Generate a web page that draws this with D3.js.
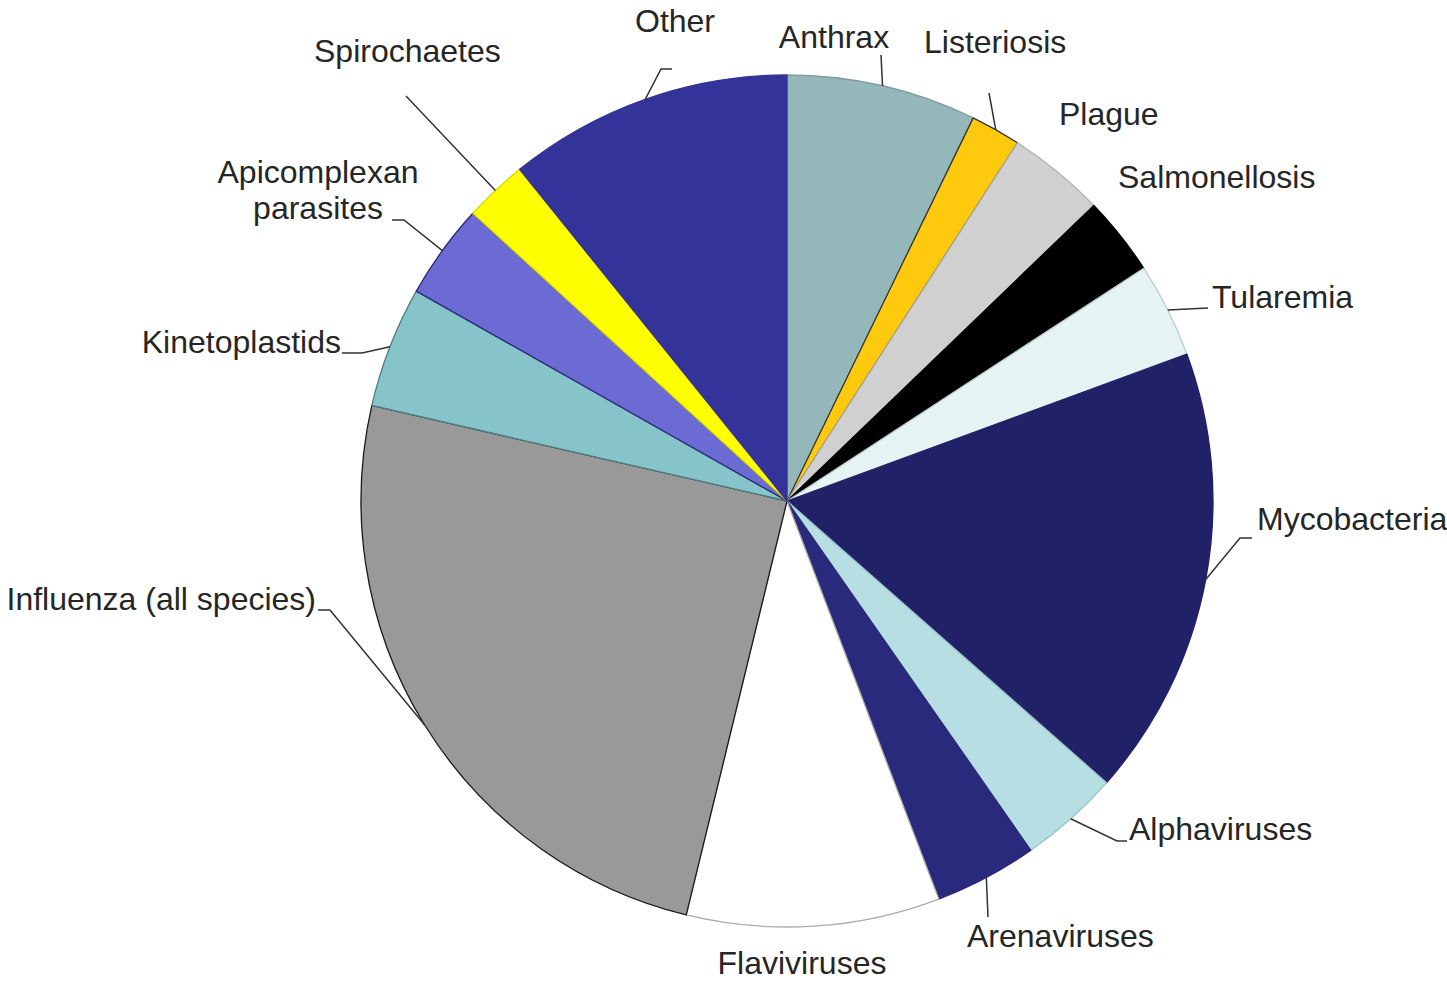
<!DOCTYPE html>
<html>
<head>
<meta charset="utf-8">
<script src="https://cdn.jsdelivr.net/npm/d3@7/dist/d3.min.js"></script>
<style>
  html, body { margin: 0; padding: 0; background: #ffffff; }
  svg { display: block; }
  text { font-family: "Liberation Sans", Arial, sans-serif; font-size: 32px; fill: #262626; }
</style>
</head>
<body>
<svg id="chart" width="1447" height="981"></svg>
<script>
// ---- data (percent of total, clockwise from 12 o'clock) ----
const categories = ["Anthrax", "Listeriosis", "Plague", "Salmonellosis", "Tularemia",
  "Mycobacteria", "Alphaviruses", "Arenaviruses", "Flaviviruses", "Influenza (all species)",
  "Kinetoplastids", "Apicomplexan parasites", "Spirochaetes", "Other"];
const values = [7.2, 1.9, 3.7, 3.0, 3.6, 17.1, 3.8, 3.9, 9.6, 24.8, 4.6, 3.6, 2.4, 10.8];

// ---- styling ----
const fills = ["#94b7ba", "#ffc90e", "#d0d0d0", "#000000", "#e6f3f3", "#212168",
  "#b7dfe3", "#2a2a7c", "#ffffff", "#999999", "#86c4ca", "#6b6bd3", "#ffff00", "#333399"];
const strokes = ["#7f9ea1", "#333333", "#b0b0b0", "#000000", "#b8c8c8", "#212168",
  "#9cc4c8", "#2a2a7c", "#aaaaaa", "#1a1a1a", "#4f7f84", "#2a2a7c", "#d8d800", "#333399"];

// label layout: text anchor/baseline and leader bends (leader starts on the slice's outer mid-arc)
const labelLayout = {
  "Anthrax":        { x: 834, y: 48, anchor: "middle", pts: [[881, 55]] },
  "Listeriosis":    { x: 924, y: 53, anchor: "start", pts: [[989, 93]] },
  "Plague":         { x: 1059, y: 125, anchor: "start", pts: [] },
  "Salmonellosis":  { x: 1118, y: 188, anchor: "start", pts: [] },
  "Tularemia":      { x: 1212, y: 308, anchor: "start", pts: [[1208, 308]] },
  "Mycobacteria":   { x: 1257, y: 530, anchor: "start", pts: [[1240, 538], [1252, 538]] },
  "Alphaviruses":   { x: 1129, y: 840, anchor: "start", pts: [[1117, 841], [1127, 841]] },
  "Arenaviruses":   { x: 967, y: 947, anchor: "start", pts: [[988, 917]] },
  "Flaviviruses":   { x: 802, y: 974, anchor: "middle", pts: [] },
  "Influenza (all species)": { x: 316, y: 610, anchor: "end", pts: [[330, 610], [318, 610]] },
  "Kinetoplastids": { x: 341, y: 353, anchor: "end", pts: [[362, 353], [342, 353]] },
  "Apicomplexan parasites": { x: 318, y: 183, anchor: "middle", lines: ["Apicomplexan", "parasites"], lineGap: 36, pts: [[404, 220], [392, 220]] },
  "Spirochaetes":   { x: 314, y: 62, anchor: "start", pts: [[406, 96]] },
  "Other":          { x: 675, y: 32, anchor: "middle", pts: [[661, 69], [672, 69]] }
};

const cx = 787, cy = 501, radius = 426;

const svg = d3.select("#chart");
const g = svg.append("g").attr("transform", `translate(${cx},${cy})`);

const data = categories.map((c, i) => ({ name: c, value: values[i], i }));

const pie = d3.pie().sort(null).value(d => d.value).startAngle(0).endAngle(2 * Math.PI);
const arcs = pie(data);
const arc = d3.arc().innerRadius(0).outerRadius(radius);

g.selectAll("path.slice")
  .data(arcs)
  .join("path")
  .attr("class", "slice")
  .attr("d", arc)
  .attr("fill", d => fills[d.data.i])
  .attr("stroke", d => strokes[d.data.i])
  .attr("stroke-width", 1.3)
  .attr("stroke-linejoin", "round");

// leader lines
const line = d3.line();
arcs.forEach(a => {
  const L = labelLayout[a.data.name];
  if (!L || !L.pts.length) return;
  const mid = (a.startAngle + a.endAngle) / 2;
  const p0 = [cx + radius * Math.sin(mid), cy - radius * Math.cos(mid)];
  svg.append("path")
    .attr("d", line([p0, ...L.pts]))
    .attr("fill", "none")
    .attr("stroke", "#333333")
    .attr("stroke-width", 1.5);
});

// labels
arcs.forEach(a => {
  const L = labelLayout[a.data.name];
  const t = svg.append("text")
    .attr("x", L.x)
    .attr("y", L.y)
    .attr("text-anchor", L.anchor);
  if (L.lines) {
    L.lines.forEach((s, k) => {
      t.append("tspan").attr("x", L.x).attr("y", L.y + k * L.lineGap).text(s);
    });
  } else {
    t.text(a.data.name);
  }
});
</script>
</body>
</html>
